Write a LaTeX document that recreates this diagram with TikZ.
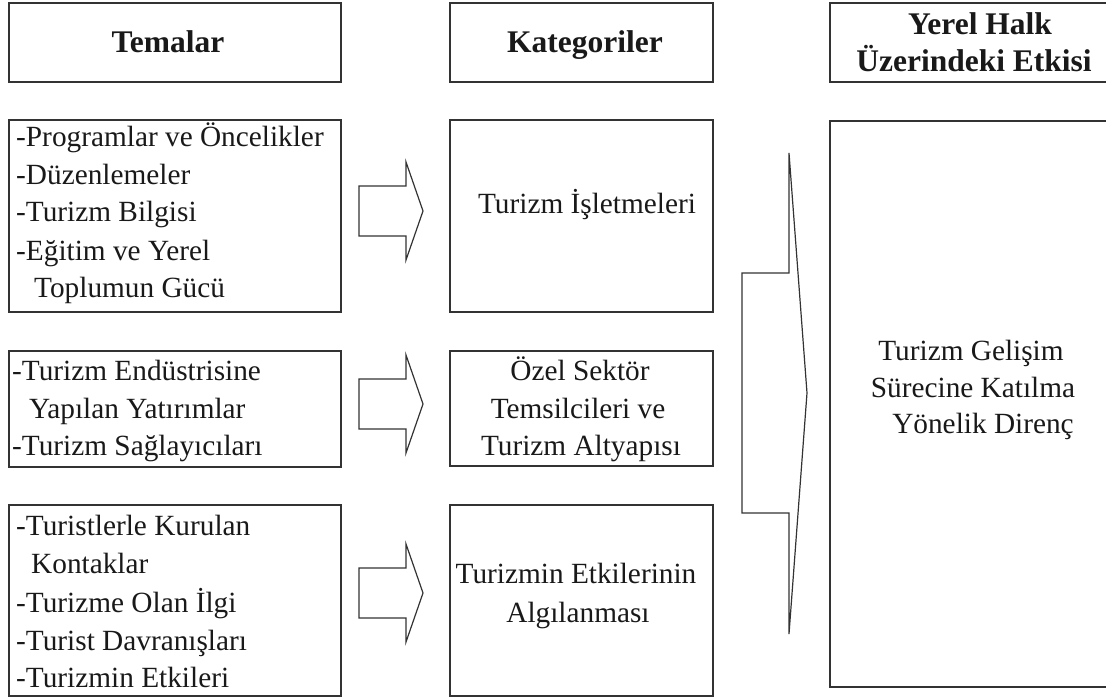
\documentclass[tikz,border=0pt]{standalone}
\usepackage{fontspec}
\setmainfont{Liberation Serif}
\begin{document}
\begin{tikzpicture}[x=1pt,y=-1pt,
  box/.style={draw=black!80,line width=1.3pt},
  blk/.style={draw=black!80,line width=1.2pt,line join=miter},
  txt/.style={inner sep=0pt,font=\fontsize{29.3}{34}\selectfont,text=black!90},
  hdr/.style={inner sep=0pt,font=\fontsize{31.5}{36}\selectfont\bfseries,text=black!90}]
\useasboundingbox (0,0) rectangle (1106,698);
\clip (0,0) rectangle (1106,698);
\fill[white] (0,0) rectangle (1106,698);
% header boxes
\draw[box] (9,3) rectangle (341,82);
\draw[box] (450,3) rectangle (713,82);
\draw[box] (830,3) rectangle (1120,82);
\node[hdr,anchor=base] (h1) at (168,53) {Temalar};
\node[hdr,anchor=base] (h2) at (585,53) {Kategoriler};
\node[hdr,anchor=base] (h3a) at (980,35) {Yerel Halk};
\node[hdr,anchor=base] (h3b) at (974,72) {Üzerindeki Etkisi};
% left boxes
\draw[box] (9,120) rectangle (341,312);
\draw[box] (9,351) rectangle (341,467);
\draw[box] (9,505) rectangle (341,696);
\node[txt,anchor=base west] (l11) at (16,147) {-Programlar ve Öncelikler};
\node[txt,anchor=base west] (l12) at (16,185) {-Düzenlemeler};
\node[txt,anchor=base west] (l13) at (16,222) {-Turizm Bilgisi};
\node[txt,anchor=base west] (l14) at (16,260) {-Eğitim ve Yerel};
\node[txt,anchor=base west] (l15) at (34,297) {Toplumun Gücü};
\node[txt,anchor=base west] (l21) at (12,380) {-Turizm Endüstrisine};
\node[txt,anchor=base west] (l22) at (29,418) {Yapılan Yatırımlar};
\node[txt,anchor=base west] (l23) at (12,455) {-Turizm Sağlayıcıları};
\node[txt,anchor=base west] (l31) at (16,535) {-Turistlerle Kurulan};
\node[txt,anchor=base west] (l32) at (31,573) {Kontaklar};
\node[txt,anchor=base west] (l33) at (16,612) {-Turizme Olan İlgi};
\node[txt,anchor=base west] (l34) at (16,650) {-Turist Davranışları};
\node[txt,anchor=base west] (l35) at (16,687) {-Turizmin Etkileri};
% middle boxes
\draw[box] (450,120) rectangle (713,312);
\draw[box] (450,351) rectangle (713,466);
\draw[box] (450,505) rectangle (713,696);
\node[txt,anchor=base] (m1) at (587,213) {Turizm İşletmeleri};
\node[txt,anchor=base] (m21) at (580,380) {Özel Sektör};
\node[txt,anchor=base] (m22) at (578,418) {Temsilcileri ve};
\node[txt,anchor=base] (m23) at (581,455) {Turizm Altyapısı};
\node[txt,anchor=base] (m31) at (576,583) {Turizmin Etkilerinin};
\node[txt,anchor=base] (m32) at (578,622) {Algılanması};
% right box
\draw[box] (830,121) rectangle (1120,687);
\node[txt,anchor=base] (r1) at (971,360) {Turizm Gelişim};
\node[txt,anchor=base] (r2) at (973,397) {Sürecine Katılma};
\node[txt,anchor=base] (r3) at (983,433) {Yönelik Direnç};
% small block arrows
\foreach \c/\n in {211/a1,404/a2,593/a3}{
  \draw[blk] (359,\c-25) -- (406,\c-25) -- (406,\c-49) -- (423,\c) -- (406,\c+49) -- (406,\c+25) -- (359,\c+25) -- cycle;
}
% big block arrow
\draw[blk] (742,273) -- (789,273) -- (789,153) -- (807,393) -- (789,634) -- (789,513) -- (742,513) -- cycle;
\end{tikzpicture}
\end{document}
